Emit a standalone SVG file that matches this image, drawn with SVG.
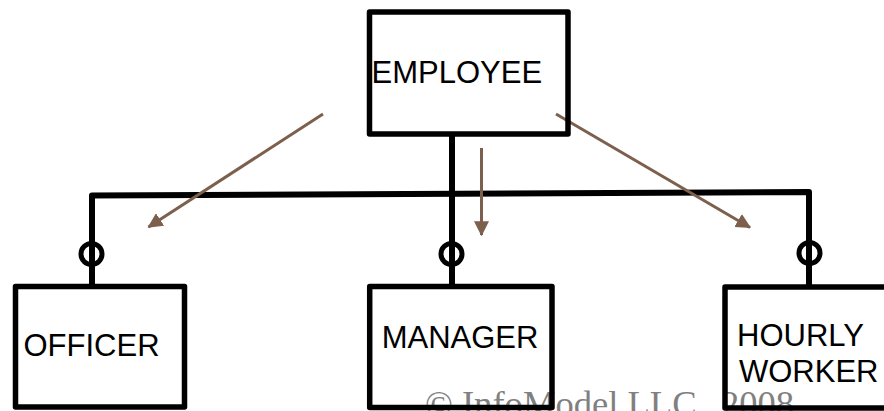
<svg xmlns="http://www.w3.org/2000/svg" width="884" height="411" viewBox="0 0 884 411">
  <style>
    .box { fill: none; stroke: #000; stroke-width: 5.5; stroke-linejoin: round; }
    .link { fill: none; stroke: #000; stroke-width: 6; stroke-linejoin: round; stroke-linecap: butt; }
    .opt { fill: none; stroke: #000; stroke-width: 5; }
    .lbl { font-family: "Liberation Sans", Arial, sans-serif; font-size: 31px; fill: #000; }
    .hint { fill: none; stroke: #7d5f4e; stroke-width: 3; }
    .copy { font-family: "Liberation Serif", "Times New Roman", serif; font-size: 36.6px; fill: #808080; }
  </style>
  <defs>
    <marker id="head" markerWidth="5" markerHeight="5" refX="4.6" refY="2.5" orient="auto" markerUnits="strokeWidth">
      <path d="M0,0 L5,2.5 L0,5 Z" fill="#7d5f4e"/>
    </marker>
  </defs>

  <rect width="884" height="411" fill="#fff"/>

  <!-- copyright line, sits beneath the outlined boxes -->
  <text class="copy" y="416"><tspan x="425">© InfoModel LLC</tspan><tspan x="721">2008</tspan></text>

  <!-- supertype / subtype connectors -->
  <g id="connectors">
    <path class="link" d="M92,287 L92,195.5 L809,192 L809,287"/>
    <line class="link" x1="452" y1="134" x2="452" y2="287"/>
    <circle class="opt" cx="91.5" cy="254" r="10.5"/>
    <circle class="opt" cx="451.5" cy="254" r="10.5"/>
    <circle class="opt" cx="809.5" cy="253" r="10.5"/>
    <line class="hint" x1="323" y1="114" x2="148.5" y2="227" marker-end="url(#head)"/>
    <line class="hint" x1="481.5" y1="148" x2="481.5" y2="235" marker-end="url(#head)"/>
    <line class="hint" x1="556" y1="114" x2="750" y2="227.5" marker-end="url(#head)"/>
  </g>

  <g id="employee">
    <rect class="box" x="369.5" y="12" width="198.5" height="122"/>
    <text class="lbl" x="371.5" y="82.7">EMPLOYEE</text>
  </g>

  <g id="officer">
    <rect class="box" x="15.5" y="286.5" width="169" height="120.5"/>
    <text class="lbl" x="23.5" y="356">OFFICER</text>
  </g>

  <g id="manager">
    <rect class="box" x="369.7" y="286.5" width="182.3" height="121"/>
    <text class="lbl" x="381.7" y="348.3">MANAGER</text>
  </g>

  <g id="hourly-worker">
    <rect class="box" x="725" y="287" width="200" height="121"/>
    <text class="lbl" x="737" y="345.7">HOURLY</text>
    <text class="lbl" x="739" y="381.7">WORKER</text>
  </g>
</svg>
